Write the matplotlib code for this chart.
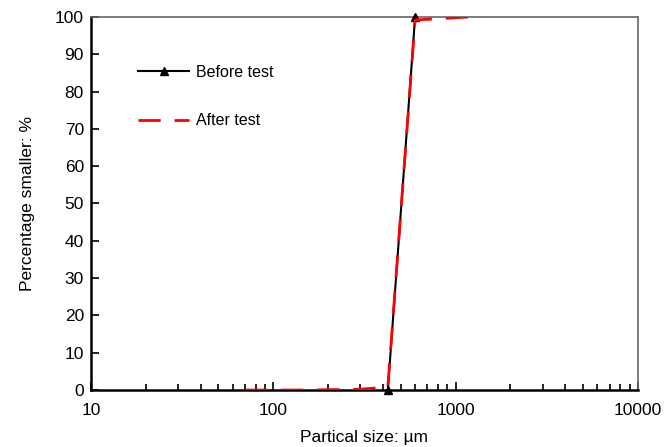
import matplotlib.pyplot as plt
from matplotlib.ticker import LogLocator, FixedLocator, NullFormatter

# sieve data
size_before = [425, 600]
pct_before = [0, 100]
size_after = [70, 150, 300, 425, 600, 1180]
pct_after = [0, 0, 0.2, 0.8, 99.2, 100]
xticks = [10, 100, 1000, 10000]
xticklabels = ['10', '100', '1000', '10000']

plt.rcParams['font.family'] = ['Liberation Sans', 'DejaVu Sans']
fig = plt.figure(figsize=(6.68, 4.47), dpi=100)
ax = fig.add_axes([0.136, 0.1275, 0.819, 0.8345])

ax.plot(size_before, pct_before, color='black', lw=1.5, marker='^', ms=6, label='Before test', zorder=3, clip_on=False)
ax.plot(size_after, pct_after, color='red', lw=2, dashes=(8, 5), label='After test', zorder=4)

ax.set_xscale('log')
ax.set_xlim(10, 10000)
ax.set_ylim(0, 100)
ax.xaxis.set_major_locator(FixedLocator(xticks))
ax.set_xticklabels(xticklabels)
ax.xaxis.set_minor_locator(LogLocator(base=10, subs=range(2, 10)))
ax.xaxis.set_minor_formatter(NullFormatter())
ax.set_yticks(range(0, 101, 10))

ax.tick_params(axis='both', which='major', direction='in', length=6, width=1.2, labelsize=12.5, colors='black')
ax.tick_params(axis='x', which='minor', direction='in', length=4, width=1.2)
ax.tick_params(axis='x', pad=9)
ax.tick_params(axis='y', pad=5)

for s in ['left', 'bottom']:
    ax.spines[s].set_linewidth(1.8)
    ax.spines[s].set_color('black')
for s in ['top', 'right']:
    ax.spines[s].set_linewidth(1.2)
    ax.spines[s].set_color('#666666')

ax.set_xlabel('Partical size: µm', fontsize=12.5, labelpad=9)
ax.set_ylabel('Percentage smaller: %', fontsize=12.5, labelpad=14)

ax.legend(loc='upper left', bbox_to_anchor=(0.06, 0.91), frameon=False, fontsize=11.5,
          handlelength=3.2, labelspacing=2.1, handletextpad=0.4)

fig.savefig('out.png', dpi=100)
